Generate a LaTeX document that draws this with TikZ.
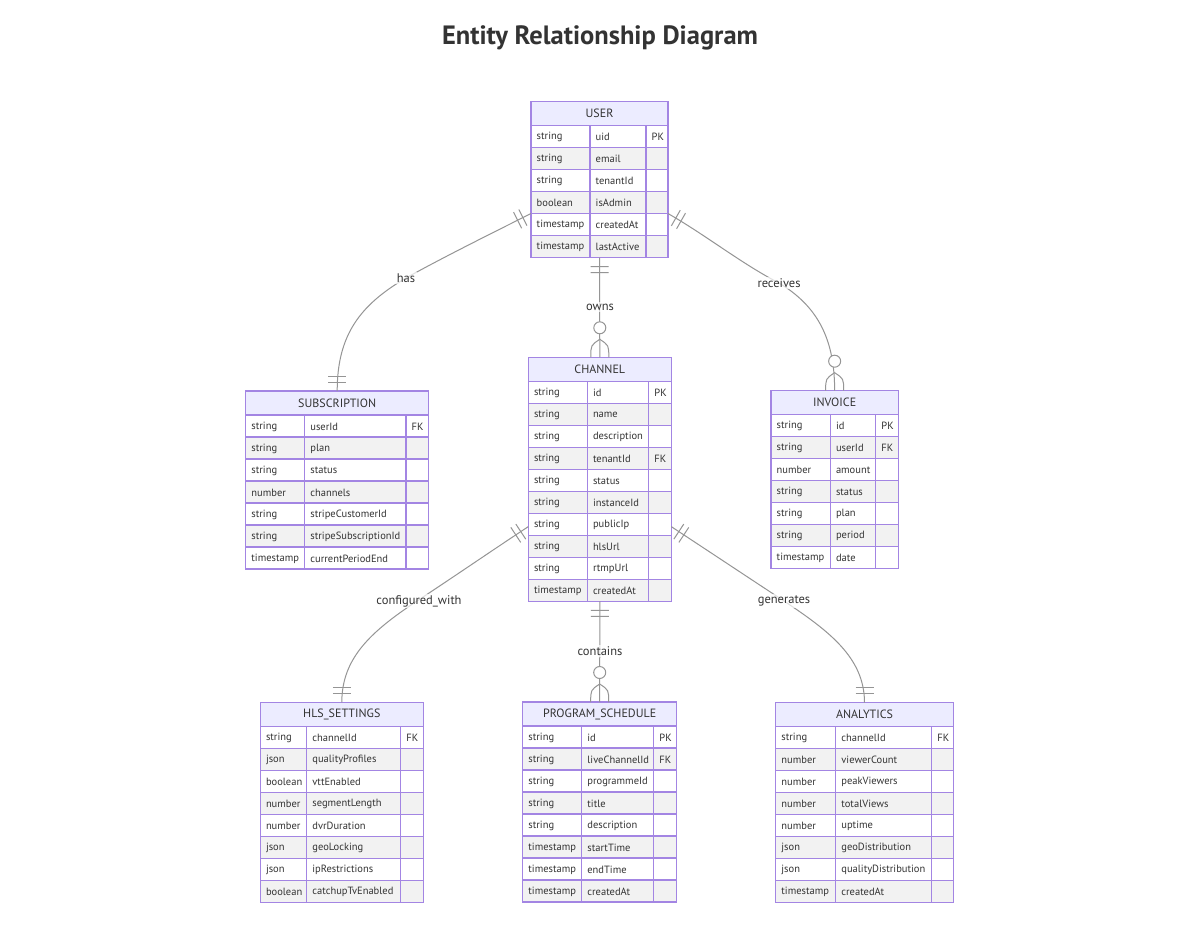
\documentclass[tikz,border=0pt]{standalone}
\usepackage{fontspec}
\setmainfont{PT Sans}
\usetikzlibrary{calc}
\definecolor{erborder}{HTML}{A385E3}
\definecolor{erhead}{HTML}{ECECFF}
\definecolor{ereven}{HTML}{F2F2F2}
\definecolor{ertext}{HTML}{333333}
\definecolor{erline}{HTML}{959595}
\tikzset{
  cellborder/.style={draw=erborder, line width=1.3pt},
  attrtext/.style={anchor=west, inner sep=0pt, font=\fontsize{10.5}{12}\selectfont, text=ertext},
  headtext/.style={inner sep=0pt, font=\fontsize{12}{14}\selectfont, text=ertext},
  rel/.style={draw=erline, line width=1pt},
  relmark/.style={draw=erline, line width=1pt},
  rellabel/.style={fill=white, fill opacity=0.7, text opacity=1, text=ertext, font=\fontsize{12.5}{14}\selectfont, inner sep=1.5pt},
  titletext/.style={font=\bfseries\fontsize{26.5}{30}\selectfont, text=ertext},
  tablebox/.style={inner sep=0pt, outer sep=0pt, anchor=north west, draw=none},
}
% #1 name, #2..#5 column x, #6 top, #7 title, #8 number of rows, #9 rows
\newcommand{\ertable}[9]{%
  \pgfmathsetmacro{\erhb}{#6+24}%
  \pgfmathsetmacro{\erbot}{#6+24+22*#8}%
  \fill[erhead] (#2,#6) rectangle (#5,\erhb);
  \foreach \ety/\enm/\eky [count=\eri] in {#9} {%
    \pgfmathsetmacro{\erya}{\erhb+(\eri-1)*22}%
    \pgfmathsetmacro{\eryb}{\erya+22}%
    \pgfmathsetmacro{\eryc}{\erya+11.5}%
    \pgfmathtruncatemacro{\erpar}{mod(\eri,2)}%
    \ifnum\erpar=0 \fill[ereven] (#2,\erya) rectangle (#5,\eryb);\fi
    \draw[cellborder] (#2,\erya) -- (#5,\erya);
    \node[attrtext] (#1-r\eri-a) at (#2+5.5,\eryc) {\ety};
    \node[attrtext] (#1-r\eri-b) at (#3+5.5,\eryc) {\enm};
    \node[attrtext] (#1-r\eri-c) at (#4+5.5,\eryc) {\eky};
  }
  \draw[cellborder] (#3,\erhb) -- (#3,\erbot) (#4,\erhb) -- (#4,\erbot);
  \draw[cellborder] (#2,#6) rectangle (#5,\erbot);
  \node[headtext] (#1-title) at ({(#2+#5)/2},{#6+12}) {#7};
  \node[tablebox, minimum width={(#5-#2)*1pt}, minimum height={(24+22*#8)*1pt}] (#1) at (#2,#6) {};
}
\newcommand{\barmark}[3]{%
  \coordinate (bmk) at ($(#1)!#3!(#2)$);
  \draw[relmark] ($(bmk)!9pt!90:(#2)$) -- ($(bmk)!9pt!-90:(#2)$);
}
\newcommand{\onlyone}[2]{\barmark{#1}{#2}{9pt}\barmark{#1}{#2}{15pt}}
\newcommand{\zeromany}[1]{%
  \draw[relmark] ($(#1)+(-9,0)$) .. controls ($(#1)+(-9,-12)$) .. ($(#1)+(0,-18)$) .. controls ($(#1)+(9,-12)$) .. ($(#1)+(9,0)$);
  \draw[relmark, fill=white] ($(#1)+(0,-29.5)$) circle[radius=6pt];
}
\begin{document}
\begin{tikzpicture}[x=1pt,y=-1pt]
\fill[white] (0,0) rectangle (1200,942);
\useasboundingbox (0,0) rectangle (1200,942);
\node[titletext] (title) at (600,38) {Entity Relationship Diagram};

\ertable{user}{531}{590}{646}{668}{101.7}{USER}{6}{string/uid/PK, string/email/{}, string/tenantId/{}, boolean/isAdmin/{}, timestamp/createdAt/{}, timestamp/lastActive/{}}
\ertable{channel}{528.3}{587.3}{648.7}{671.3}{357.3}{CHANNEL}{10}{string/id/PK, string/name/{}, string/description/{}, string/tenantId/FK, string/status/{}, string/instanceId/{}, string/publicIp/{}, string/hlsUrl/{}, string/rtmpUrl/{}, timestamp/createdAt/{}}
\ertable{subscription}{245.7}{304.7}{406}{428.7}{391}{SUBSCRIPTION}{7}{string/userId/FK, string/plan/{}, string/status/{}, number/channels/{}, string/stripeCustomerId/{}, string/stripeSubscriptionId/{}, timestamp/currentPeriodEnd/{}}
\ertable{invoice}{771}{830.3}{875.7}{898.3}{390.7}{INVOICE}{7}{string/id/PK, string/userId/FK, number/amount/{}, string/status/{}, string/plan/{}, string/period/{}, timestamp/date/{}}
\ertable{hls}{260.3}{306.7}{400.7}{423.3}{702.3}{HLS\_SETTINGS}{8}{string/channelId/FK, json/qualityProfiles/{}, boolean/vttEnabled/{}, number/segmentLength/{}, number/dvrDuration/{}, json/geoLocking/{}, json/ipRestrictions/{}, boolean/catchupTvEnabled/{}}
\ertable{sched}{522.7}{581.7}{653.7}{676.7}{702}{PROGRAM\_SCHEDULE}{8}{string/id/PK, string/liveChannelId/FK, string/programmeId/{}, string/title/{}, string/description/{}, timestamp/startTime/{}, timestamp/endTime/{}, timestamp/createdAt/{}}
\ertable{analytics}{775.7}{835.7}{931.7}{953.3}{702.7}{ANALYTICS}{8}{string/channelId/FK, number/viewerCount/{}, number/peakViewers/{}, number/totalViews/{}, number/uptime/{}, json/geoDistribution/{}, json/qualityDistribution/{}, timestamp/createdAt/{}}

% connector end points
\coordinate (hasS) at ($(user.north west)!0.717!(user.south west)$);
\coordinate (recS) at ($(user.north east)!0.717!(user.south east)$);
\coordinate (cfgS) at ($(channel.north west)!0.694!(channel.south west)$);
\coordinate (genS) at ($(channel.north east)!0.694!(channel.south east)$);
\coordinate (hasM) at (406,278);
\coordinate (recM) at (779,283);
\coordinate (cfgM) at (417,601);
\coordinate (genM) at (784,601);

% owns
\draw[rel] (user.south) -- (channel.north);
\onlyone{user.south}{channel.north}
\zeromany{channel.north}
\node[rellabel] (lblowns) at (600,307) {owns};

% contains
\draw[rel] (channel.south) -- (sched.north);
\onlyone{channel.south}{sched.north}
\zeromany{sched.north}
\node[rellabel] (lblcontains) at (600,651) {contains};

% has
\draw[rel] (hasS) .. controls +(-40,20) and +(34,-19) .. (hasM) .. controls +(-46,27) and +(0,-56) .. (subscription.north);
\coordinate (hasD) at ($(hasS)+(-40,20)$);
\coordinate (hasE) at ($(subscription.north)+(0,-50)$);
\onlyone{hasS}{hasD}
\onlyone{subscription.north}{hasE}
\node[rellabel] (lblhas) at (hasM) {has};

% receives
\draw[rel] (recS) .. controls +(37,21) and +(-37,-19) .. (recM) .. controls +(40,24) and +(0,-50) .. (invoice.north);
\coordinate (recD) at ($(recS)+(37,21)$);
\onlyone{recS}{recD}
\zeromany{invoice.north}
\node[rellabel] (lblrec) at (recM) {receives};

% configured_with
\draw[rel] (cfgS) .. controls +(-38,25) and +(38,-25) .. (cfgM) .. controls +(-45,30) and +(0,-45) .. (hls.north);
\coordinate (cfgD) at ($(cfgS)+(-38,25)$);
\coordinate (cfgE) at ($(hls.north)+(0,-50)$);
\onlyone{cfgS}{cfgD}
\onlyone{hls.north}{cfgE}
\node[rellabel] (lblcfg) at (419,601) {configured\_with};

% generates
\draw[rel] (genS) .. controls +(38,25) and +(-38,-25) .. (genM) .. controls +(45,30) and +(0,-45) .. (analytics.north);
\coordinate (genD) at ($(genS)+(38,25)$);
\coordinate (genE) at ($(analytics.north)+(0,-50)$);
\onlyone{genS}{genD}
\onlyone{analytics.north}{genE}
\node[rellabel] (lblgen) at (genM) {generates};
\end{tikzpicture}
\end{document}
